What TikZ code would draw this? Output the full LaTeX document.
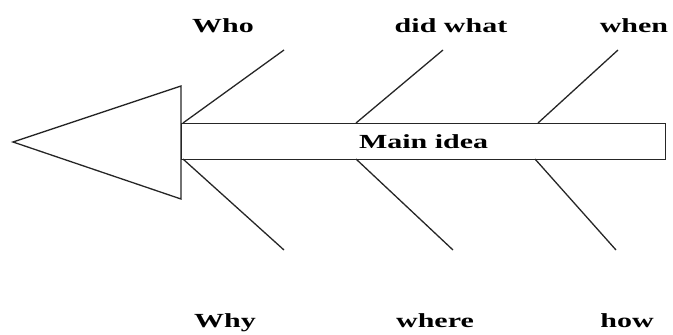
\documentclass[tikz,border=0pt]{standalone}
\usepackage{fontspec}
\setmainfont{Liberation Serif}
\begin{document}
\begin{tikzpicture}[x=1pt,y=-1pt,
  bone/.style={line width=1.3pt,draw=black!85},
  lbl/.style={anchor=base,inner sep=0pt,font=\fontsize{20}{20}\selectfont\bfseries},
  spine/.style={draw=black!85,line width=1.3pt,minimum width=484pt,minimum height=36pt,inner sep=0pt,font=\fontsize{20}{20}\selectfont\bfseries}]
\useasboundingbox (0,0) rectangle (673,335);
% head
\coordinate (tip) at (13,142);
\coordinate (ht) at (181,86);
\coordinate (hb) at (181,199);
\draw[bone,line join=miter] (tip) -- (ht) -- (hb) -- cycle;
% spine
\node[spine,anchor=north west] (main) at (181,123) {\raisebox{-2pt}{\scalebox{1.5}[1]{Main idea}}};
% branch points
\coordinate (a1) at (183,123); \coordinate (a1e) at (284,50);
\coordinate (a2) at (356,123); \coordinate (a2e) at (443,50);
\coordinate (a3) at (538,123); \coordinate (a3e) at (618,50);
\coordinate (b1) at (183,159); \coordinate (b1e) at (284,250);
\coordinate (b2) at (356,159); \coordinate (b2e) at (453,250);
\coordinate (b3) at (535,159); \coordinate (b3e) at (616,250);
\draw[bone] (a1) -- (a1e);
\draw[bone] (a2) -- (a2e);
\draw[bone] (a3) -- (a3e);
\draw[bone] (b1) -- (b1e);
\draw[bone] (b2) -- (b2e);
\draw[bone] (b3) -- (b3e);
% labels
\node[lbl] (who) at (223,32) {\scalebox{1.5}[1]{Who}};
\node[lbl] (did) at (451,32) {\scalebox{1.5}[1]{did what}};
\node[lbl] (when) at (634,32) {\scalebox{1.5}[1]{when}};
\node[lbl] (why) at (225,327) {\scalebox{1.5}[1]{Why}};
\node[lbl] (where) at (435,327) {\scalebox{1.5}[1]{where}};
\node[lbl] (how) at (627,327) {\scalebox{1.5}[1]{how}};
\end{tikzpicture}
\end{document}
